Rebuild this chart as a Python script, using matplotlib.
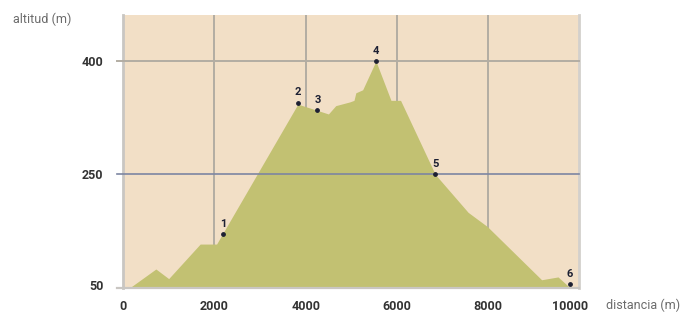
import numpy as np
import matplotlib
matplotlib.use("Agg")
import matplotlib.pyplot as plt
import matplotlib.transforms as mtransforms

# perfil: distancia (m) y altitud (m)
dist = [150, 720, 1000, 1690, 2050, 3830, 4500, 4660, 4970, 5060, 5100,
        5250, 5540, 5870, 6080, 6840, 7560, 7980, 9170, 9530, 9790]
alt = [50, 83, 66, 127, 127, 343, 330, 341, 346, 348, 358,
       362, 400, 348, 348, 250, 183, 158, 64, 69, 50]

# puntos numerados
pt_labels = ["1", "2", "3", "4", "5", "6"]
pt_dist = [2190, 3830, 4260, 5540, 6840, 9790]
pt_alt = [144, 345, 335, 400, 250, 56]

xticks = [0, 2000, 4000, 6000, 8000, 10000]
yticks = [50, 250, 400]

bg = "#f2dfc6"
fill_col = "#c2c172"
grid_col = "#b3ada3"
blue_col = "#7d86a2"
ink = "#1d2033"
grey_txt = "#6b6b6b"


# eje y no lineal: 50-250 y 250-400 ocupan la misma altura
def fwd(v):
    v = np.asarray(v, dtype=float)
    return np.where(v <= 250, (v - 50) / 200.0, 1 + (v - 250) / 150.0)


def inv(u):
    u = np.asarray(u, dtype=float)
    return np.where(u <= 1, 50 + 200.0 * u, 250 + 150.0 * (u - 1))


plt.rcParams['font.family'] = ['Roboto', 'DejaVu Sans']

fig = plt.figure(figsize=(6.8, 3.16), dpi=100)
ax = fig.add_axes([0.1809, 0.0896, 0.6713, 0.8629])
ax.set_yscale('function', functions=(fwd, inv))
ax.set_facecolor(bg)

ax.fill_between(dist, 50, alt, color=fill_col, lw=0, zorder=2)

for x in xticks[1:-1]:
    ax.axvline(x, color=grid_col, lw=1.4, zorder=1)
ax.axhline(400, xmin=-0.013, xmax=1, color=grid_col, lw=1.4, zorder=3, clip_on=False)
ax.axhline(250, xmin=-0.013, xmax=1, color=blue_col, lw=1.2, zorder=3, clip_on=False)
ax.axhline(50, xmin=-0.013, xmax=1, color="#c9c6c2", lw=1.6, zorder=3, clip_on=False)

ax.scatter(pt_dist, pt_alt, s=6, color=ink, zorder=5)
for lab, x, y in zip(pt_labels, pt_dist, pt_alt):
    ax.annotate(lab, (x, y), xytext=(0, 4), textcoords='offset points',
                ha='center', va='bottom', fontsize=8, fontweight='bold',
                color=ink, zorder=6)

ax.set_xlim(0, 10000)
ax.set_ylim(50, 461)
ax.set_xticks(xticks)
ax.set_xticklabels([str(t) for t in xticks])
ax.set_yticks(yticks)
ax.set_yticklabels([str(t) for t in yticks])
ax.tick_params(axis='both', length=0, labelsize=9, colors="#333333")
ax.tick_params(axis='y', pad=14)
ax.tick_params(axis='x', pad=9)
for t in ax.get_xticklabels() + ax.get_yticklabels():
    t.set_fontweight('bold')
last = ax.get_xticklabels()[-1]
last.set_transform(last.get_transform() +
                   mtransforms.ScaledTranslation(-9 / 100, 0, fig.dpi_scale_trans))
first_y = ax.get_yticklabels()[0]
first_y.set_transform(first_y.get_transform() +
                      mtransforms.ScaledTranslation(0, 3 / 100, fig.dpi_scale_trans))

for s in ['top', 'bottom']:
    ax.spines[s].set_visible(False)
ax.spines['left'].set_color("#c9c6c2")
ax.spines['left'].set_linewidth(2)
ax.spines['right'].set_color("#d3d0cc")
ax.spines['right'].set_linewidth(2)

fig.text(13 / 680, 1 - 19 / 316, "altitud (m)", fontsize=9, color=grey_txt,
         ha='left', va='center')
fig.text(606 / 680, 1 - 305 / 316, "distancia (m)", fontsize=9, color=grey_txt,
         ha='left', va='center')

fig.savefig("out.png", dpi=100, facecolor="white")
